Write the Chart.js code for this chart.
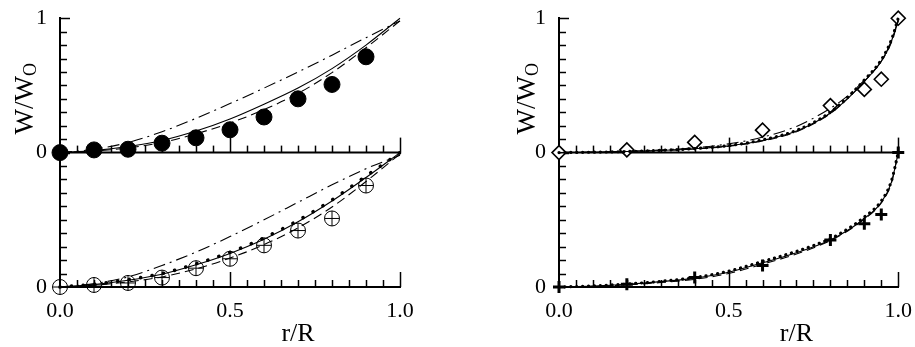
<!DOCTYPE html>
<html>
<head>
<meta charset="utf-8">
<script src="https://cdn.jsdelivr.net/npm/chart.js@4.4.1/dist/chart.umd.min.js"></script>
<style>
  body { margin: 0; background: #fff; width: 915px; height: 347px; overflow: hidden; position: relative; }
  .panel { position: absolute; top: 0; }
</style>
</head>
<body>
<div class="panel" style="left:0"><canvas id="chart-left" width="460" height="347"></canvas></div>
<div class="panel" style="left:460px"><canvas id="chart-right" width="455" height="347"></canvas></div>
<script>
// left panel: curves sampled at r/R = 0 .. 1
const leftX = [0, 0.1, 0.2, 0.3, 0.4, 0.5, 0.6, 0.7, 0.8, 0.9, 1.0];
const leftTopSolid = [0, 0.015, 0.045, 0.09, 0.16, 0.25, 0.36, 0.48, 0.625, 0.80, 1.0];
const leftTopDashed = [0, 0.012, 0.035, 0.075, 0.14, 0.22, 0.32, 0.44, 0.595, 0.78, 0.98];
const leftTopDashDot = [0, 0.025, 0.075, 0.155, 0.255, 0.365, 0.48, 0.60, 0.725, 0.855, 0.98];
const leftLowSolid = [0, 0.018, 0.05, 0.095, 0.165, 0.25, 0.355, 0.485, 0.64, 0.815, 1.0];
const leftLowDotted = [0, 0.02, 0.055, 0.10, 0.172, 0.258, 0.365, 0.495, 0.648, 0.825, 1.0];
const leftLowDashed = [0, 0.013, 0.038, 0.075, 0.135, 0.215, 0.315, 0.44, 0.595, 0.785, 0.99];
const leftLowDashDot = [0, 0.025, 0.075, 0.16, 0.26, 0.375, 0.50, 0.63, 0.76, 0.88, 0.98];

// left panel: measured points
const leftPointX = [0, 0.1, 0.2, 0.3, 0.4, 0.5, 0.6, 0.7, 0.8, 0.9];
const leftTopPoints = [0, 0.02, 0.025, 0.07, 0.11, 0.17, 0.265, 0.40, 0.507, 0.713];
const leftLowPoints = [0, 0.015, 0.03, 0.07, 0.14, 0.21, 0.31, 0.42, 0.51, 0.755];

// right panel: curves
const rightX = [0, 0.1, 0.2, 0.3, 0.4, 0.5, 0.6, 0.7, 0.8, 0.85, 0.9, 0.95, 0.98, 1.0];
const rightTopDotted = [0, 0.003, 0.008, 0.017, 0.03, 0.052, 0.095, 0.165, 0.30, 0.41, 0.54, 0.69, 0.84, 1.0];
const rightTopSolid = [0, 0.003, 0.008, 0.016, 0.029, 0.05, 0.09, 0.16, 0.295, 0.40, 0.53, 0.68, 0.83, 0.99];
const rightTopDashed = [0, 0.002, 0.007, 0.015, 0.027, 0.047, 0.087, 0.155, 0.29, 0.40, 0.53, 0.68, 0.82, 0.98];
const rightTopDashDot = [0, 0.004, 0.01, 0.02, 0.036, 0.065, 0.115, 0.195, 0.33, 0.42, 0.54, 0.68, 0.83, 0.98];
const rightLowDotted = [0, 0.008, 0.022, 0.042, 0.07, 0.118, 0.19, 0.265, 0.36, 0.43, 0.52, 0.64, 0.79, 1.0];
const rightLowSolid = [0, 0.007, 0.02, 0.04, 0.066, 0.11, 0.18, 0.255, 0.35, 0.42, 0.51, 0.63, 0.78, 1.0];
const rightLowDashed = [0, 0.005, 0.016, 0.033, 0.057, 0.10, 0.17, 0.245, 0.345, 0.415, 0.505, 0.625, 0.775, 1.0];

// right panel: measured points
const rightPointX = [0, 0.2, 0.4, 0.6, 0.8, 0.9, 0.95, 1.0];
const rightTopPoints = [0, 0.02, 0.076, 0.167, 0.35, 0.47, 0.546, 1.0];
const rightLowPoints = [0, 0.02, 0.07, 0.16, 0.35, 0.47, 0.54, 1.0];

const xTickLabels = ['0.0', '0.5', '1.0'];

const serif = '"Liberation Serif", "Times New Roman", serif';
const toPoints = (xs, ys) => xs.map((x, i) => ({ x, y: ys[i] }));

const curve = (xs, ys, axis, style) => {
  const base = {
    data: toPoints(xs, ys),
    yAxisID: axis,
    showLine: true,
    borderColor: '#000',
    borderWidth: 1.1,
    pointRadius: 0,
    fill: false,
    cubicInterpolationMode: 'monotone',
    clip: false,
  };
  if (style === 'dashed') base.borderDash = [9, 5];
  if (style === 'dashdot') base.borderDash = [12, 5, 2, 5];
  if (style.startsWith('dots')) {
    const gap = style === 'dots-wide' ? 11.5 : 5.8;
    base.borderDash = [0.1, gap];
    base.borderCapStyle = 'round';
    base.borderWidth = style === 'dots-wide' ? 3.6 : 3.2;
  }
  return base;
};

const markers = (xs, ys, axis, opts) => ({
  data: toPoints(xs, ys),
  yAxisID: axis,
  showLine: false,
  clip: false,
  borderColor: '#000',
  backgroundColor: 'transparent',
  ...opts,
});

// inward tick marks, the shared middle axis and the axis titles
const axisDecor = {
  id: 'axisDecor',
  beforeDatasetsDraw(chart) {
    const { ctx, chartArea: area, scales } = chart;
    const midY = scales.yTop.getPixelForValue(0);
    const seg = (x1, y1, x2, y2) => {
      ctx.beginPath();
      ctx.moveTo(x1, y1);
      ctx.lineTo(x2, y2);
      ctx.stroke();
    };
    ctx.save();
    ctx.strokeStyle = '#000';
    ctx.lineWidth = 2;
    seg(area.left, midY, area.right, midY);
    ctx.lineWidth = 1.5;
    [scales.yTop, scales.yLow].forEach((s) => {
      for (let i = 1; i <= 10; i++) {
        const py = Math.round(s.getPixelForValue(i / 10)) + 0.5;
        seg(area.left, py, area.left + (i === 10 ? 10 : 7), py);
      }
    });
    [midY, area.bottom].forEach((by) => {
      for (let i = 1; i <= 20; i++) {
        const px = Math.round(scales.x.getPixelForValue(i / 20)) + 0.5;
        seg(px, by, px, by - (i % 10 === 0 ? 15 : 7));
      }
    });
    ctx.restore();
  },
  afterDraw(chart) {
    const { ctx, chartArea: area, scales } = chart;
    ctx.save();
    ctx.fillStyle = '#000';
    ctx.textBaseline = 'alphabetic';
    // r/R
    ctx.font = `26px ${serif}`;
    ctx.textAlign = 'center';
    ctx.fillText('r/R', scales.x.getPixelForValue(0.7), area.bottom + 54);
    // W/W_O rotated
    ctx.translate(area.left - chart.options.titleGap, scales.yTop.getPixelForValue(0.4));
    ctx.rotate(-Math.PI / 2);
    ctx.textAlign = 'left';
    ctx.font = `27px ${serif}`;
    const main = 'W/W';
    const w1 = ctx.measureText(main).width;
    ctx.font = `18px ${serif}`;
    const w2 = ctx.measureText('O').width;
    const start = -(w1 + w2) / 2;
    ctx.font = `27px ${serif}`;
    ctx.fillText(main, start, 0);
    ctx.font = `18px ${serif}`;
    ctx.fillText('O', start + w1, 3);
    ctx.restore();
  },
};

const tickFont = { family: serif, size: 22 };

const yScale = (width, labelFor) => ({
  type: 'linear',
  position: 'left',
  stack: 'w',
  stackWeight: 1,
  min: 0,
  max: 1,
  grid: { display: false },
  border: { display: true, color: '#000', width: 2 },
  ticks: {
    stepSize: 1,
    autoSkip: false,
    color: '#000',
    font: tickFont,
    padding: 5,
    callback: labelFor,
  },
  afterFit: (s) => { s.width = width; },
});

const buildPanel = (canvasId, yWidth, rightPad, titleGap, datasets) => new Chart(document.getElementById(canvasId), {
  type: 'scatter',
  data: { datasets },
  plugins: [axisDecor],
  options: {
    titleGap,
    responsive: false,
    animation: false,
    events: [],
    layout: { padding: { top: 15, right: rightPad, bottom: 0, left: 0 } },
    plugins: { legend: { display: false }, tooltip: { enabled: false } },
    scales: {
      x: {
        type: 'linear',
        min: 0,
        max: 1,
        grid: { display: false },
        border: { display: true, color: '#000', width: 2 },
        ticks: {
          stepSize: 0.5,
          autoSkip: false,
          maxRotation: 0,
          color: '#000',
          font: tickFont,
          padding: 3,
          callback: (v) => xTickLabels[Math.round(v * 2)],
        },
        afterFit: (s) => { s.height = 60; },
      },
      yLow: yScale(yWidth, (v) => (v === 0 ? '0' : '')),
      yTop: yScale(yWidth, (v) => String(v)),
    },
  },
});

buildPanel('chart-left', 60, 60, 27, [
  curve(leftX, leftTopDashDot, 'yTop', 'dashdot'),
  curve(leftX, leftTopDashed, 'yTop', 'dashed'),
  curve(leftX, leftTopSolid, 'yTop', 'solid'),
  curve(leftX, leftLowDashDot, 'yLow', 'dashdot'),
  curve(leftX, leftLowDashed, 'yLow', 'dashed'),
  curve(leftX, leftLowSolid, 'yLow', 'solid'),
  curve(leftX, leftLowDotted, 'yLow', 'dots-wide'),
  markers(leftPointX, leftTopPoints, 'yTop', { pointStyle: 'circle', pointRadius: 8, backgroundColor: '#000', borderWidth: 1 }),
  markers(leftPointX, leftLowPoints, 'yLow', { pointStyle: 'circle', pointRadius: 7.5, borderWidth: 1 }),
  markers(leftPointX, leftLowPoints, 'yLow', { pointStyle: 'cross', pointRadius: 7.5, borderWidth: 1 }),
]);

buildPanel('chart-right', 99, 15, 24, [
  curve(rightX, rightTopDashDot, 'yTop', 'dashdot'),
  curve(rightX, rightTopDashed, 'yTop', 'dashed'),
  curve(rightX, rightTopSolid, 'yTop', 'solid'),
  curve(rightX, rightTopDotted, 'yTop', 'dots'),
  curve(rightX, rightLowDashed, 'yLow', 'dashed'),
  curve(rightX, rightLowSolid, 'yLow', 'solid'),
  curve(rightX, rightLowDotted, 'yLow', 'dots'),
  markers(rightPointX, rightTopPoints, 'yTop', { pointStyle: 'rectRot', pointRadius: 7, borderWidth: 1.6, backgroundColor: '#fff' }),
  markers(rightPointX, rightLowPoints, 'yLow', { pointStyle: 'cross', pointRadius: 6, borderWidth: 3 }),
]);
</script>
</body>
</html>
